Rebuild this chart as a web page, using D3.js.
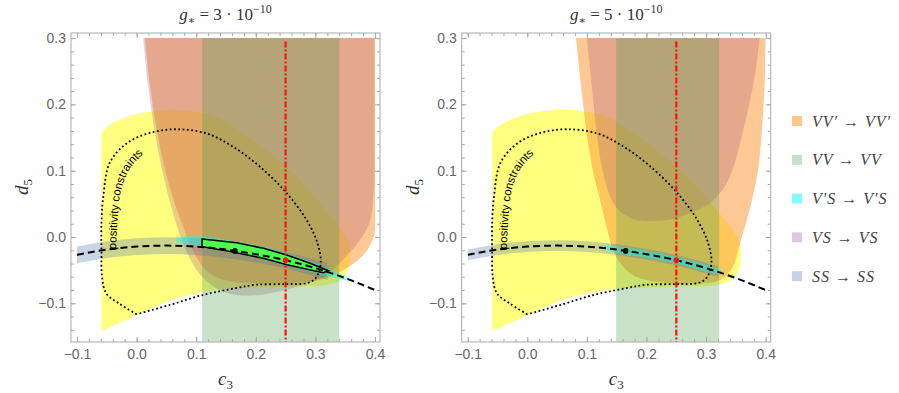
<!DOCTYPE html>
<html>
<head>
<meta charset="utf-8">
<script src="https://cdn.jsdelivr.net/npm/d3@7"></script>
<style>
  body { margin: 0; background: #fff; }
  svg { display: block; }
</style>
</head>
<body>
<svg id="chart" width="899" height="393"></svg>
<script>
// ---- data ----
var c3Ticks = [-0.1, 0, 0.1, 0.2, 0.3, 0.4];
var d5Ticks = [-0.1, 0, 0.1, 0.2, 0.3];
var panelG = ["3", "5"];
var legendLabels = ["VV\u2032 \u2192 VV\u2032", "VV \u2192 VV", "V\u2032S \u2192 V\u2032S", "VS \u2192 VS", "SS \u2192 SS"];

// black dashed curve
var curveC3 = [-0.1, -0.05, 0, 0.05, 0.1, 0.15, 0.2, 0.25, 0.3, 0.35, 0.4];
var curveD5 = [-0.027, -0.019, -0.0145, -0.013, -0.0145, -0.019, -0.026, -0.035, -0.047, -0.062, -0.080];

// dots on the curve
var blackDot = [0.165, -0.021];
var redDot = [0.25, -0.035];
var redLineC3 = 0.25;

// yellow region (same on both panels), open outline closed by its straight left edge
var yellowRegion = [[-0.059, 0.157], [-0.045, 0.169], [-0.006, 0.184], [0.03, 0.19], [0.06, 0.192], [0.09, 0.19],
  [0.135, 0.181], [0.195, 0.146], [0.257, 0.101], [0.308, 0.051], [0.342, 0.014], [0.356, -0.006], [0.358, -0.03],
  [0.355, -0.05], [0.343, -0.064], [0.32, -0.072], [0.25, -0.075], [0.15, -0.078], [0.111, -0.083], [0.055, -0.096],
  [0, -0.118], [-0.059, -0.142]];

// positivity constraints (dotted closed curve)
var positivity = [[0, -0.1166], [-0.03, -0.1], [-0.051, -0.085], [-0.058, -0.06], [-0.059, -0.02], [-0.059, 0.02],
  [-0.056, 0.06], [-0.045, 0.112], [-0.017, 0.141], [0.022, 0.157], [0.067, 0.1625], [0.118, 0.156], [0.162, 0.136],
  [0.207, 0.106], [0.252, 0.066], [0.285, 0.026], [0.303, -0.008], [0.309, -0.038], [0.302, -0.06], [0.288, -0.069],
  [0.25, -0.071], [0.2, -0.072], [0.167, -0.077], [0.111, -0.0875], [0.055, -0.1026], [0, -0.1166]];
var positivityLabel = [[-0.0346, -0.0186], [-0.0312, 0.0332], [-0.0262, 0.0694], [-0.0128, 0.101], [0.0074, 0.122], [0.0292, 0.139]];

// g* = 3e-10
var orangeLeft = [[0.014, 0.3], [0.022, 0.23], [0.035, 0.156], [0.048, 0.1], [0.062, 0.056], [0.08, 0.0106], [0.1, -0.03],
  [0.123, -0.055], [0.157, -0.067], [0.21, -0.07], [0.29, -0.067], [0.325, -0.06], [0.352, -0.047], [0.375, -0.032],
  [0.392, -0.012], [0.4, 0.01], [0.4, 0.3]];
var purpleLeft = [[0.011, 0.3], [0.019, 0.23], [0.031, 0.156], [0.043, 0.1], [0.055, 0.056], [0.07, 0.01], [0.088, -0.03],
  [0.11, -0.06], [0.135, -0.078], [0.165, -0.087], [0.2, -0.088], [0.24, -0.082], [0.28, -0.072], [0.315, -0.06],
  [0.335, -0.045], [0.35, -0.03], [0.37, -0.01], [0.39, 0.02], [0.398, 0.07], [0.399, 0.15], [0.399, 0.3]];
var vvLeft = [0.11, 0.34];
var ssC3 = [-0.1, -0.05, 0, 0.05, 0.1, 0.15, 0.2, 0.25, 0.3, 0.32];
var ssLeftHi = [-0.0145, -0.0065, -0.002, -0.0005, -0.002, -0.0065, -0.0135, -0.0225, -0.0345, -0.0395];
var ssLeftLo = [-0.0395, -0.0315, -0.027, -0.0255, -0.027, -0.0315, -0.0385, -0.0475, -0.0595, -0.0645];
var cyanLeft = [[0.065, -0.003], [0.08, 0.001], [0.11, 0.001], [0.17, -0.007], [0.22, -0.016], [0.27, -0.03],
  [0.32, -0.047], [0.365, -0.067], [0.33, -0.061], [0.31, -0.056], [0.25, -0.043], [0.2, -0.031], [0.157, -0.023],
  [0.11, -0.015], [0.085, -0.011], [0.07, -0.008]];
var allowedLeft = [[0.11, -0.003], [0.168, -0.0086], [0.2126, -0.017], [0.252, -0.027], [0.291, -0.0397], [0.322, -0.0508],
  [0.313, -0.0538], [0.252, -0.042], [0.2126, -0.032], [0.157, -0.022], [0.11, -0.0146]];

// g* = 5e-10
var orangeRight = [[0.0817, 0.3], [0.09, 0.23], [0.0997, 0.156], [0.11, 0.1], [0.122, 0.056], [0.133, 0.015], [0.144, -0.02],
  [0.158, -0.042], [0.178, -0.058], [0.22, -0.068], [0.29, -0.07], [0.325, -0.064], [0.345, -0.045], [0.355, -0.015],
  [0.365, 0.015], [0.378, 0.06], [0.388, 0.106], [0.395, 0.18], [0.399, 0.25], [0.4, 0.3]];
var purpleRight = [[0.0997, 0.3], [0.108, 0.23], [0.1165, 0.156], [0.124, 0.11], [0.133, 0.076], [0.143, 0.053],
  [0.156, 0.038], [0.175, 0.028], [0.189, 0.0246], [0.234, 0.0256], [0.273, 0.036], [0.3, 0.047], [0.318, 0.061],
  [0.334, 0.08], [0.346, 0.106], [0.362, 0.16], [0.374, 0.207], [0.383, 0.25], [0.39, 0.3]];
var vvRight = [0.149, 0.322];
var ssRightHi = [-0.019, -0.011, -0.0065, -0.005, -0.0065, -0.011, -0.018, -0.027, -0.039, -0.044];
var ssRightLo = [-0.035, -0.027, -0.0225, -0.021, -0.0225, -0.027, -0.034, -0.043, -0.055, -0.060];
var cyanRightC3 = [0.128, 0.15, 0.2, 0.25, 0.3, 0.33];
var cyanRightHi = [-0.012, -0.014, -0.021, -0.030, -0.042, -0.051];
var cyanRightLo = [-0.019, -0.024, -0.031, -0.040, -0.052, -0.057];

// ---- styles ----
var legendColors = ["#fdc88c", "#c8e1c8", "#80ffff", "#dcc8e0", "#c8d2e4"];
var serif = "'Liberation Serif', 'DejaVu Serif', serif";
var sans = "'Liberation Sans', Arial, sans-serif";

var svg = d3.select("#chart");
var defs = svg.append("defs");

var panels = [
  { x0: 77, g: panelG[0], orange: orangeLeft, purple: purpleLeft, vv: vvLeft, ssHi: ssLeftHi, ssLo: ssLeftLo, cyan: cyanLeft, allowed: allowedLeft },
  { x0: 467.7, g: panelG[1], orange: orangeRight, purple: purpleRight, vv: vvRight, ssHi: ssRightHi, ssLo: ssRightLo, cyanBand: true, allowed: null }
];

panels.forEach(function (p, k) {
  var x = d3.scaleLinear().domain([-0.1, 0.4]).range([p.x0, p.x0 + 298]);
  var y = d3.scaleLinear().domain([-0.1, 0.3]).range([303.3, 38.1]);
  var left = p.x0 - 6, right = p.x0 + 303, top = 33, bottom = 342;
  var g = svg.append("g");

  defs.append("clipPath").attr("id", "clip" + k)
    .append("rect").attr("x", x(-0.1)).attr("y", y(0.3)).attr("width", x(0.4) - x(-0.1)).attr("height", bottom - y(0.3));
  var plot = g.append("g").attr("clip-path", "url(#clip" + k + ")");

  var openShape = d3.line().x(d => x(d[0])).y(d => y(d[1])).curve(d3.curveCatmullRom.alpha(0.5));
  var closedShape = d3.line().x(d => x(d[0])).y(d => y(d[1])).curve(d3.curveCatmullRomClosed.alpha(0.5));
  var polygon = d3.line().x(d => x(d[0])).y(d => y(d[1])).curve(d3.curveLinearClosed);

  // yellow region
  plot.append("path").attr("d", openShape(yellowRegion) + "Z").attr("fill", "#ffff00").attr("fill-opacity", 0.5);
  // VV' -> VV'
  plot.append("path").attr("d", openShape(p.orange) + "Z").attr("fill", "#fb9a3a").attr("fill-opacity", 0.55);
  // VS -> VS
  plot.append("path").attr("d", openShape(p.purple) + "Z").attr("fill", "#b06080").attr("fill-opacity", 0.3);
  // VV -> VV
  plot.append("rect").attr("x", x(p.vv[0])).attr("width", x(p.vv[1]) - x(p.vv[0]))
    .attr("y", y(0.3)).attr("height", bottom - y(0.3)).attr("fill", "#4a9a4a").attr("fill-opacity", 0.3);
  // SS -> SS
  var ssArea = d3.area().x((d, i) => x(ssC3[i])).y0((d, i) => y(p.ssLo[i])).y1((d, i) => y(p.ssHi[i])).curve(d3.curveMonotoneX);
  plot.append("path").attr("d", ssArea(ssC3)).attr("fill", "#5070b0").attr("fill-opacity", 0.3);
  // V'S -> V'S
  if (p.cyanBand) {
    var cyArea = d3.area().x((d, i) => x(cyanRightC3[i])).y0((d, i) => y(cyanRightLo[i])).y1((d, i) => y(cyanRightHi[i])).curve(d3.curveMonotoneX);
    plot.append("path").attr("d", cyArea(cyanRightC3)).attr("fill", "#00ffff").attr("fill-opacity", 0.45);
  } else {
    plot.append("path").attr("d", closedShape(p.cyan)).attr("fill", "#00ffff").attr("fill-opacity", 0.45);
  }
  // allowed region
  if (p.allowed) {
    plot.append("path").attr("d", polygon(p.allowed)).attr("fill", "#4cff4c").attr("stroke", "#000").attr("stroke-width", 1.6);
  }

  // positivity dotted curve
  plot.append("path").attr("d", openShape(positivity)).attr("fill", "none").attr("stroke", "#000")
    .attr("stroke-width", 1.8).attr("stroke-dasharray", "1.8,2.5");
  defs.append("path").attr("id", "poslab" + k).attr("d", d3.line().x(d => x(d[0])).y(d => y(d[1])).curve(d3.curveCatmullRom)(positivityLabel));
  g.append("text").style("font-family", sans).style("font-size", "11.5px").attr("fill", "#000")
    .append("textPath").attr("href", "#poslab" + k).text("positivity constraints");

  // black dashed curve
  var curve = d3.line().x((d, i) => x(curveC3[i])).y((d, i) => y(curveD5[i])).curve(d3.curveMonotoneX);
  plot.append("path").attr("d", curve(curveC3)).attr("fill", "none").attr("stroke", "#000")
    .attr("stroke-width", 2).attr("stroke-dasharray", "7,4");

  // red dash-dot line
  g.append("line").attr("x1", x(redLineC3)).attr("x2", x(redLineC3)).attr("y1", y(0.295)).attr("y2", bottom)
    .attr("stroke", "#ff1010").attr("stroke-width", 2.2).attr("stroke-dasharray", "6,2,2,2");
  g.append("circle").attr("cx", x(blackDot[0])).attr("cy", y(blackDot[1])).attr("r", 2.8).attr("fill", "#000");
  g.append("circle").attr("cx", x(redDot[0])).attr("cy", y(redDot[1])).attr("r", 2.8).attr("fill", "#ff1010");

  // frame
  g.append("rect").attr("x", left).attr("y", top).attr("width", right - left).attr("height", bottom - top)
    .attr("fill", "none").attr("stroke", "#aaa").attr("stroke-width", 1);

  var minorX = d3.range(-0.1, 0.4001, 0.02), minorY = d3.range(-0.14, 0.3001, 0.02);
  function styleAxis(sel) {
    sel.select(".domain").remove();
    sel.selectAll("line").attr("stroke", "#aaa");
    sel.selectAll("text").style("font-family", sans).style("font-size", "14px").attr("fill", "#666");
  }
  g.append("g").attr("transform", "translate(0," + bottom + ")")
    .call(d3.axisBottom(x).tickValues(c3Ticks).tickFormat(d3.format(".1f")).tickSize(-5).tickPadding(7)).call(styleAxis);
  g.append("g").attr("transform", "translate(0," + bottom + ")")
    .call(d3.axisBottom(x).tickValues(minorX).tickFormat("").tickSize(-3)).call(styleAxis);
  g.append("g").attr("transform", "translate(0," + top + ")")
    .call(d3.axisTop(x).tickValues(c3Ticks).tickFormat("").tickSize(-5)).call(styleAxis);
  g.append("g").attr("transform", "translate(0," + top + ")")
    .call(d3.axisTop(x).tickValues(minorX).tickFormat("").tickSize(-3)).call(styleAxis);
  g.append("g").attr("transform", "translate(" + left + ",0)")
    .call(d3.axisLeft(y).tickValues(d5Ticks).tickFormat(d3.format(".1f")).tickSize(-5).tickPadding(5)).call(styleAxis);
  g.append("g").attr("transform", "translate(" + left + ",0)")
    .call(d3.axisLeft(y).tickValues(minorY).tickFormat("").tickSize(-3)).call(styleAxis);
  g.append("g").attr("transform", "translate(" + right + ",0)")
    .call(d3.axisRight(y).tickValues(d5Ticks).tickFormat("").tickSize(-5)).call(styleAxis);
  g.append("g").attr("transform", "translate(" + right + ",0)")
    .call(d3.axisRight(y).tickValues(minorY).tickFormat("").tickSize(-3)).call(styleAxis);

  // title
  var cx = (left + right) / 2;
  var t = g.append("text").attr("x", cx).attr("y", 20).attr("text-anchor", "middle")
    .style("font-family", serif).style("font-size", "17px").attr("fill", "#333");
  t.append("tspan").style("font-style", "italic").text("g");
  t.append("tspan").attr("dy", 4).style("font-size", "11px").text("\u2217");
  t.append("tspan").attr("dy", -4).text(" = " + p.g + " \u00b7 10");
  t.append("tspan").attr("dy", -7).style("font-size", "12px").text("\u221210");

  // axis labels
  var xl = g.append("text").attr("x", cx).attr("y", 385).attr("text-anchor", "middle")
    .style("font-family", serif).style("font-size", "19px").attr("fill", "#333");
  xl.append("tspan").style("font-style", "italic").text("c");
  xl.append("tspan").attr("dy", 4).style("font-size", "13px").text("3");
  var yl = g.append("text").attr("transform", "translate(" + (left - 43) + ",187) rotate(-90)").attr("text-anchor", "middle")
    .style("font-family", serif).style("font-size", "19px").attr("fill", "#333");
  yl.append("tspan").style("font-style", "italic").text("d");
  yl.append("tspan").attr("dy", 4).style("font-size", "13px").text("5");
});

// legend
var legend = svg.append("g").selectAll("g").data(legendLabels).enter().append("g")
  .attr("transform", (d, i) => "translate(792," + (121 + i * 38.8) + ")");
legend.append("rect").attr("x", 0).attr("y", -5).attr("width", 10).attr("height", 10).attr("fill", (d, i) => legendColors[i]);
legend.append("text").attr("x", 20).attr("y", 5.5).style("font-family", serif).style("font-style", "italic")
  .style("font-size", "16px").style("letter-spacing", "1px").attr("fill", "#444").text(d => d);
</script>
</body>
</html>
